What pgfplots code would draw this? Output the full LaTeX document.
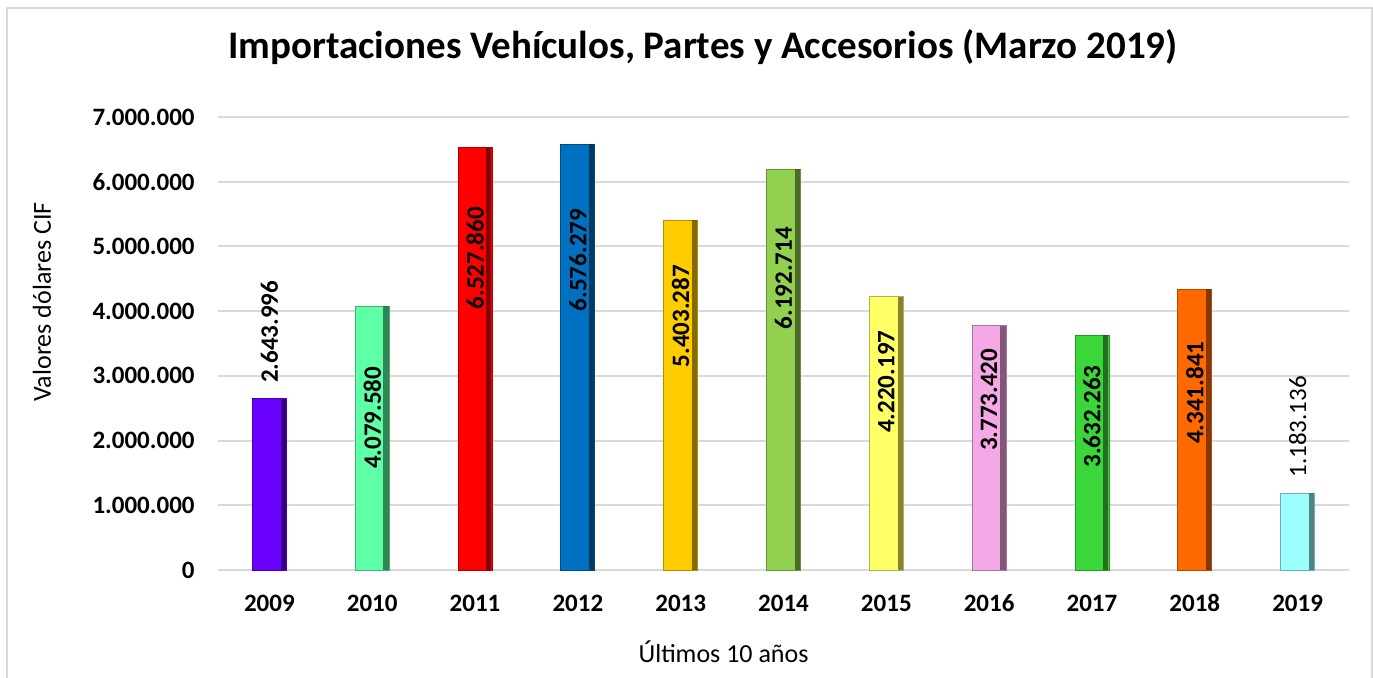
\documentclass[border=0pt]{standalone}
\usepackage{pgfplots}
\pgfplotsset{compat=1.18}
\usepackage{fontspec}
\setmainfont{Carlito}

\definecolor{c09}{HTML}{6A00FF}
\definecolor{c10}{HTML}{5EFFA6}
\definecolor{c11}{HTML}{FF0000}
\definecolor{c12}{HTML}{0070C0}
\definecolor{c13}{HTML}{FFCC00}
\definecolor{c14}{HTML}{92D050}
\definecolor{c15}{HTML}{FFFF66}
\definecolor{c16}{HTML}{F5A8E6}
\definecolor{c17}{HTML}{3AD63A}
\definecolor{c18}{HTML}{FF6A00}
\definecolor{c19}{HTML}{9CFFFF}
\definecolor{gridgray}{HTML}{D9D9D9}

% one coloured bar, with a darker strip on its right edge
\newcommand{\onebar}[3]{%
  \addplot[ybar, bar width=17pt, bar shift=0pt, fill=#3, draw=#3!70!black, line width=0.4pt]
    coordinates {(#1,#2)};
  \addplot[ybar, bar width=2.6pt, bar shift=6.9pt, fill=#3!40!black, draw=none, opacity=0.8]
    coordinates {(#1,#2)};
}

\begin{document}
\begin{tikzpicture}
\path[use as bounding box] (0pt,0pt) rectangle (686.5pt,339pt);
\draw[gridgray, line width=1pt] (3.5pt,-5pt) -- (3.5pt,335pt) -- (686pt,335pt) -- (686pt,-5pt);
\begin{axis}[
  at={(109pt,54pt)}, anchor=south west,
  scale only axis, width=565.5pt, height=226.5pt,
  xmin=-0.5, xmax=10.5, ymin=0, ymax=7000000,
  xtick={0,...,10},
  xticklabels={2009,2010,2011,2012,2013,2014,2015,2016,2017,2018,2019},
  ytick={0,1000000,2000000,3000000,4000000,5000000,6000000,7000000},
  scaled y ticks=false,
  yticklabel={\pgfmathprintnumber[fixed,precision=0,1000 sep={.},assume math mode=true]{\tick}},
  axis line style={draw=none},
  major tick length=0pt,
  ymajorgrids, grid style={gridgray, line width=1pt},
  xticklabel style={font=\fontsize{12.5}{15}\selectfont\bfseries, anchor=center, yshift=-16.5pt},
  yticklabel style={font=\fontsize{12.5}{15}\selectfont\bfseries, anchor=east, inner sep=0pt, xshift=-11.5pt},
  title={Importaciones Vehículos, Partes y Accesorios (Marzo 2019)},
  every axis title/.style={font=\fontsize{19.5}{23}\selectfont\bfseries, at={(rel axis cs:0.4288,1.1545)}, anchor=center},
  xlabel={Últimos 10 años},
  every axis x label/.style={at={(rel axis cs:0.447,-0.181)}, anchor=center, font=\fontsize{13}{15}\selectfont},
  ylabel={Valores dólares CIF},
  every axis y label/.style={at={(rel axis cs:-0.1556,0.592)}, rotate=90, anchor=center, font=\fontsize{13}{15}\selectfont},
  clip=false,
]
\onebar{0}{2643996}{c09}
\onebar{1}{4079580}{c10}
\onebar{2}{6527860}{c11}
\onebar{3}{6576279}{c12}
\onebar{4}{5403287}{c13}
\onebar{5}{6192714}{c14}
\onebar{6}{4220197}{c15}
\onebar{7}{3773420}{c16}
\onebar{8}{3632263}{c17}
\onebar{9}{4341841}{c18}
\onebar{10}{1183136}{c19}

% data labels, placed where the reference has them
\addplot[draw=none, mark=none, nodes near coords, point meta=explicit symbolic,
  nodes near coords style={rotate=90, anchor=center, font=\fontsize{12.5}{15}\selectfont\bfseries, text=black}]
  coordinates {
    (0,3680000) [2.643.996]
    (1,2350000) [4.079.580]
    (2,4820000) [6.527.860]
    (3,4790000) [6.576.279]
    (4,3920000) [5.403.287]
    (5,4510000) [6.192.714]
    (6,2910000) [4.220.197]
    (7,2630000) [3.773.420]
    (8,2370000) [3.632.263]
    (9,2740000) [4.341.841]
  };
\addplot[draw=none, mark=none, nodes near coords, point meta=explicit symbolic,
  nodes near coords style={rotate=90, anchor=center, font=\fontsize{12.5}{15}\selectfont, text=black}]
  coordinates {(10,2210000) [1.183.136]};
\end{axis}
\end{tikzpicture}
\end{document}
